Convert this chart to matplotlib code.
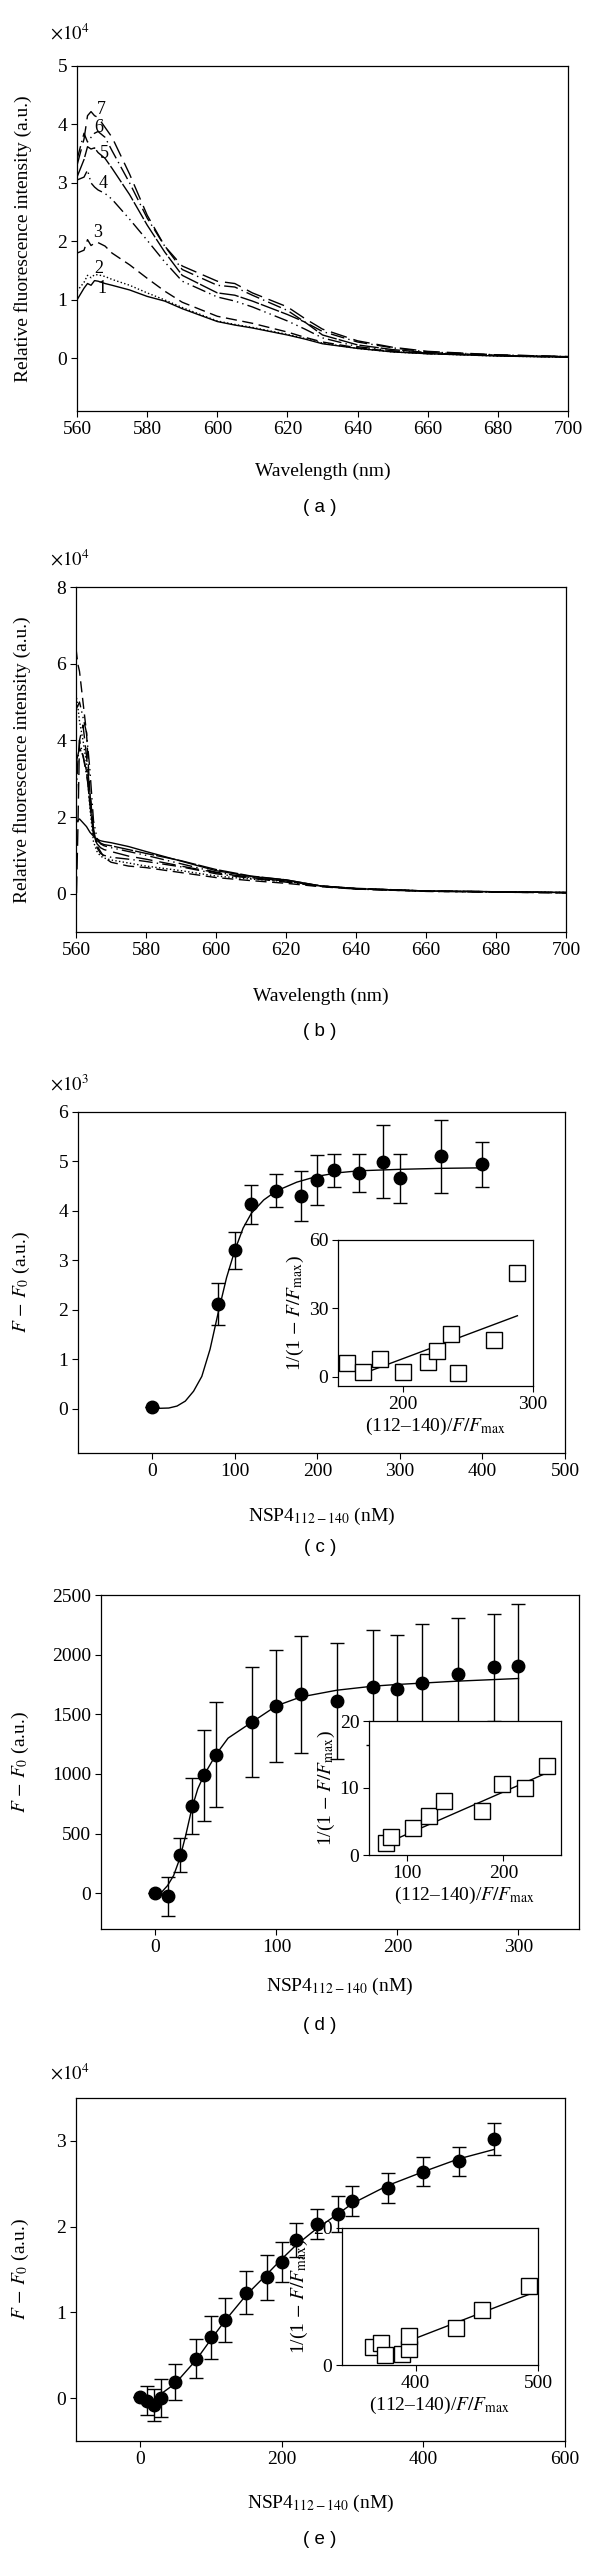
import matplotlib
matplotlib.use('Agg')
import matplotlib.pyplot as plt
import numpy as np

plt.rcParams['font.family'] = ['Liberation Serif', 'DejaVu Serif']
plt.rcParams['mathtext.fontset'] = 'stix'

# ---------------- data ----------------
# (a) emission spectra, x1e4
wl_a = [560, 562, 563, 564, 565, 566, 568, 570, 575, 580, 585, 590, 600, 605, 610, 620, 625, 630, 640, 650, 660, 680, 700]
a1 = [1.0, 1.2, 1.28, 1.25, 1.33, 1.32, 1.28, 1.25, 1.17, 1.06, 0.98, 0.85, 0.63, 0.57, 0.52, 0.40, 0.33, 0.25, 0.17, 0.11, 0.08, 0.04, 0.02]
a2 = [1.15, 1.3, 1.42, 1.38, 1.43, 1.43, 1.4, 1.35, 1.25, 1.12, 1.0, 0.87, 0.64, 0.58, 0.53, 0.41, 0.34, 0.26, 0.17, 0.11, 0.08, 0.04, 0.02]
a3 = [1.8, 1.85, 2.03, 1.93, 1.97, 1.98, 1.92, 1.8, 1.6, 1.37, 1.15, 0.96, 0.72, 0.66, 0.6, 0.45, 0.36, 0.28, 0.18, 0.12, 0.08, 0.05, 0.02]
a4 = [3.05, 3.1, 3.22, 3.0, 2.93, 2.88, 2.82, 2.72, 2.38, 2.02, 1.65, 1.32, 1.05, 0.98, 0.88, 0.64, 0.5, 0.35, 0.2, 0.13, 0.09, 0.05, 0.02]
a5 = [3.1, 3.4, 3.62, 3.58, 3.6, 3.52, 3.42, 3.25, 2.8, 2.28, 1.82, 1.42, 1.12, 1.08, 0.98, 0.75, 0.62, 0.4, 0.23, 0.15, 0.1, 0.05, 0.03]
a6 = [3.4, 3.85, 3.7, 3.78, 3.85, 3.88, 3.78, 3.55, 3.0, 2.4, 1.92, 1.52, 1.25, 1.22, 1.08, 0.82, 0.62, 0.46, 0.28, 0.18, 0.11, 0.06, 0.03]
a7 = [3.3, 3.75, 4.15, 4.22, 4.15, 4.12, 3.95, 3.78, 3.15, 2.45, 1.92, 1.58, 1.32, 1.28, 1.12, 0.88, 0.68, 0.5, 0.3, 0.19, 0.12, 0.06, 0.03]
a_labels = ['1', '2', '3', '4', '5', '6', '7']
a_label_x = [567, 566.3, 566, 567.4, 567.8, 566.3, 567]
a_label_y = [1.2, 1.54, 2.15, 2.99, 3.51, 3.94, 4.26]

# (b) emission spectra, x1e4
wl_b = [560, 560.5, 561, 562, 563, 564, 565, 566, 567, 568, 570, 575, 580, 590, 600, 610, 620, 630, 640, 660, 680, 700]
b1 = [1.85, 1.9, 1.95, 1.85, 1.75, 1.6, 1.5, 1.42, 1.38, 1.36, 1.33, 1.23, 1.1, 0.85, 0.6, 0.45, 0.36, 0.2, 0.13, 0.07, 0.05, 0.03]
b2 = [5.2, 4.9, 4.5, 4.0, 3.4, 2.2, 1.35, 1.1, 0.98, 0.93, 0.88, 0.8, 0.72, 0.6, 0.46, 0.38, 0.32, 0.2, 0.13, 0.07, 0.05, 0.03]
b3 = [6.4, 6.0, 5.8, 5.0, 4.2, 2.6, 1.6, 1.25, 1.1, 0.95, 0.82, 0.72, 0.68, 0.55, 0.42, 0.34, 0.27, 0.18, 0.12, 0.06, 0.04, 0.02]
b4 = [4.8, 4.9, 5.0, 4.6, 4.2, 3.2, 1.9, 1.45, 1.3, 1.25, 1.2, 1.1, 1.0, 0.78, 0.56, 0.42, 0.33, 0.2, 0.13, 0.07, 0.05, 0.03]
b5 = [3.4, 3.6, 3.8, 3.6, 3.2, 2.3, 1.55, 1.38, 1.32, 1.28, 1.25, 1.15, 1.05, 0.86, 0.63, 0.46, 0.36, 0.2, 0.14, 0.07, 0.05, 0.03]
b6 = [2.5, 3.4, 4.0, 3.6, 3.1, 2.6, 1.7, 1.2, 1.05, 1.0, 0.95, 0.9, 0.84, 0.7, 0.52, 0.4, 0.3, 0.19, 0.12, 0.06, 0.04, 0.02]
b7 = [-0.6, 1.5, 4.0, 4.4, 3.6, 2.6, 1.6, 1.3, 1.2, 1.15, 1.1, 0.98, 0.9, 0.72, 0.55, 0.42, 0.33, 0.2, 0.13, 0.07, 0.05, 0.03]

# (c) titration, x1e3
c_x = [0, 80, 100, 120, 150, 180, 200, 220, 250, 280, 300, 350, 400]
c_y = [0.03, 2.12, 3.2, 4.13, 4.41, 4.3, 4.62, 4.82, 4.77, 4.99, 4.66, 5.1, 4.94]
c_err = [0.0, 0.42, 0.37, 0.39, 0.34, 0.51, 0.5, 0.34, 0.39, 0.74, 0.5, 0.73, 0.45]
c_fit_x = [0, 20, 30, 40, 50, 60, 70, 80, 90, 100, 110, 120, 135, 150, 175, 200, 225, 250, 300, 350, 400]
c_fit_y = [0, 0.01, 0.05, 0.15, 0.35, 0.65, 1.2, 1.95, 2.65, 3.2, 3.65, 3.95, 4.22, 4.4, 4.58, 4.7, 4.77, 4.81, 4.84, 4.86, 4.87]
ci_x = [157, 169, 182, 200, 219, 226, 237, 242, 270, 288]
ci_y = [5.9, 2.2, 8.0, 2.2, 6.6, 11.3, 19.0, 1.5, 16.0, 45.4]
ci_line_x = [170, 288]
ci_line_y = [1.6, 26.8]

# (d) titration
d_x = [0, 10, 20, 30, 40, 50, 80, 100, 120, 150, 180, 200, 220, 250, 280, 300]
d_y = [3, -25, 322, 731, 988, 1162, 1436, 1571, 1666, 1610, 1725, 1716, 1764, 1834, 1893, 1907]
d_err = [0, 165, 140, 231, 381, 437, 458, 469, 493, 486, 483, 448, 490, 472, 448, 514]
d_fit_x = [5, 10, 15, 20, 25, 30, 35, 40, 50, 60, 80, 100, 120, 150, 180, 200, 250, 300]
d_fit_y = [8, 64, 148, 288, 484, 708, 876, 988, 1162, 1300, 1436, 1571, 1645, 1702, 1736, 1750, 1778, 1800]
di_x = [78, 83, 106, 122, 138, 178, 199, 223, 245]
di_y = [1.8, 2.7, 4.0, 5.8, 8.0, 6.5, 10.6, 10.0, 13.3]
di_line_x = [74, 246]
di_line_y = [1.5, 12.3]

# (e) titration, x1e4
e_x = [0, 10, 20, 30, 50, 80, 100, 120, 150, 180, 200, 220, 250, 280, 300, 350, 400, 450, 500]
e_y = [0.01, -0.03, -0.08, 0.0, 0.19, 0.46, 0.71, 0.91, 1.23, 1.41, 1.59, 1.84, 2.03, 2.15, 2.3, 2.45, 2.64, 2.76, 3.02]
e_err = [0, 0.17, 0.185, 0.22, 0.21, 0.23, 0.25, 0.26, 0.25, 0.26, 0.235, 0.2, 0.18, 0.21, 0.175, 0.175, 0.17, 0.165, 0.19]
e_fit_x = [22, 30, 50, 80, 100, 120, 150, 180, 200, 220, 250, 280, 300, 350, 400, 450, 500]
e_fit_y = [0.0, 0.05, 0.17, 0.45, 0.68, 0.9, 1.2, 1.45, 1.62, 1.78, 1.98, 2.15, 2.27, 2.48, 2.64, 2.79, 2.9]
ei_x = [365, 372, 375, 389, 395, 395, 433, 454, 493]
ei_y = [2.6, 3.2, 1.5, 1.6, 2.4, 4.3, 5.4, 8.0, 11.6]
ei_line_x = [400, 494]
ei_line_y = [3.9, 10.4]

# ---------------- layout ----------------
W, H = 600, 2555
fig = plt.figure(figsize=(W / 100, H / 100), dpi=100)
font = 14


def box(x0, y0, x1, y1):
    return [x0 / W, 1 - y1 / H, (x1 - x0) / W, (y1 - y0) / H]


def style(ax, fs=font):
    ax.tick_params(direction='out', length=4, width=0.8, labelsize=fs, top=False, right=False, pad=3)
    for s in ax.spines.values():
        s.set_linewidth(0.9)


def caption(txt, y):
    fig.text(320 / W, 1 - y / H, txt, ha='center', va='center', fontsize=13.5, family='Liberation Sans')


def scale_note(txt, y):
    fig.text(50 / W, 1 - y / H, txt, ha='left', va='center', fontsize=13.5)


styles = ['-', ':', (0, (8, 4)), (0, (10, 3, 1, 3, 1, 3)), (0, (14, 1.5)), (0, (10, 3, 1, 3)), (0, (12, 5))]

# (a)
ax = fig.add_axes(box(77, 66, 568, 411))
for yv, ls in zip([a1, a2, a3, a4, a5, a6, a7], styles):
    ax.plot(wl_a, yv, color='black', lw=1.0, linestyle=ls)
for t, x, y in zip(a_labels, a_label_x, a_label_y):
    ax.text(x, y, t, fontsize=13, ha='center', va='center')
ax.set_xlim(560, 700)
ax.set_ylim(-0.9, 5)
ax.set_xticks(np.arange(560, 701, 20))
ax.set_yticks(np.arange(0, 6, 1))
ax.set_xlabel('Wavelength (nm)', fontsize=font)
ax.set_ylabel('Relative fluorescence intensity (a.u.)', fontsize=font)
ax.yaxis.set_label_coords(-0.092, 0.5)
ax.xaxis.set_label_coords(0.5, -0.15)
style(ax)
scale_note(r'$\times10^4$', 33)
caption('( a )', 508)

# (b)
ax = fig.add_axes(box(76, 587, 566, 932))
for yv, ls in zip([b1, b2, b3, b4, b5, b6, b7], styles):
    ax.plot(wl_b, yv, color='black', lw=1.0, linestyle=ls)
ax.set_xlim(560, 700)
ax.set_ylim(-1, 8)
ax.set_xticks(np.arange(560, 701, 20))
ax.set_yticks(np.arange(0, 9, 2))
ax.set_xlabel('Wavelength (nm)', fontsize=font)
ax.set_ylabel('Relative fluorescence intensity (a.u.)', fontsize=font)
ax.yaxis.set_label_coords(-0.092, 0.5)
ax.xaxis.set_label_coords(0.5, -0.16)
style(ax)
scale_note(r'$\times10^4$', 559)
caption('( b )', 1032)

ylab_f = r'$F$ $-$ $F_0$ (a.u.)'
xlab_n = r'NSP4$_{\mathrm{112-140}}$ (nM)'
ylab_i = r'1/(1 $-$ $F/F_{\mathrm{max}}$)'
xlab_i = r'(112–140)/$F/F_{\mathrm{max}}$'


def titration(ax, x, y, err, fx, fy):
    ax.errorbar(x, y, yerr=err, fmt='o', color='black', ms=9, elinewidth=1.0, capsize=5, capthick=1.0, zorder=3)
    ax.plot(fx, fy, color='black', lw=1.0)


def inset(ax, x, y, lx, ly):
    ax.plot(lx, ly, color='black', lw=1.0, zorder=2)
    ax.plot(x, y, 's', ms=12, mfc='white', mec='black', mew=1.0, zorder=3, clip_on=False)


# (c)
ax = fig.add_axes(box(78, 1112, 565, 1453))
titration(ax, c_x, c_y, c_err, c_fit_x, c_fit_y)
ax.set_xlim(-90, 500)
ax.set_ylim(-0.9, 6)
ax.set_xticks(np.arange(0, 501, 100))
ax.set_yticks(np.arange(0, 7, 1))
ax.set_xlabel(xlab_n, fontsize=font)
ax.set_ylabel(ylab_f, fontsize=font)
ax.yaxis.set_label_coords(-0.095, 0.5)
ax.xaxis.set_label_coords(0.5, -0.155)
style(ax)
scale_note(r'$\times10^3$', 1084)
caption('( c )', 1548)

ai = fig.add_axes(box(338, 1240, 533, 1386))
inset(ai, ci_x, ci_y, ci_line_x, ci_line_y)
ai.set_xlim(150, 300)
ai.set_ylim(-4, 60)
ai.set_xticks([200, 300])
ai.set_yticks([0, 30, 60])
ai.set_xlabel(xlab_i, fontsize=font, labelpad=2)
ai.set_ylabel(ylab_i, fontsize=font, labelpad=2)
style(ai)

# (d)
ax = fig.add_axes(box(101, 1595, 579, 1929))
titration(ax, d_x, d_y, d_err, d_fit_x, d_fit_y)
ax.set_xlim(-45, 350)
ax.set_ylim(-300, 2500)
ax.set_xticks(np.arange(0, 301, 100))
ax.set_yticks(np.arange(0, 2501, 500))
ax.set_xlabel(xlab_n, fontsize=font)
ax.set_ylabel(ylab_f, fontsize=font)
ax.yaxis.set_label_coords(-0.146, 0.5)
ax.xaxis.set_label_coords(0.5, -0.14)
style(ax)
caption('( d )', 2025)

ai = fig.add_axes(box(369, 1721, 561, 1855))
inset(ai, di_x, di_y, di_line_x, di_line_y)
ai.set_xlim(60, 260)
ai.set_ylim(0, 20)
ai.set_xticks([100, 200])
ai.set_yticks([0, 10, 20])
ai.set_xlabel(xlab_i, fontsize=font, labelpad=2)
ai.set_ylabel(ylab_i, fontsize=font, labelpad=2)
style(ai)

# (e)
ax = fig.add_axes(box(76, 2098, 565, 2441))
titration(ax, e_x, e_y, e_err, e_fit_x, e_fit_y)
ax.set_xlim(-90, 600)
ax.set_ylim(-0.5, 3.5)
ax.set_xticks(np.arange(0, 601, 200))
ax.set_yticks(np.arange(0, 4, 1))
ax.set_xlabel(xlab_n, fontsize=font)
ax.set_ylabel(ylab_f, fontsize=font)
ax.yaxis.set_label_coords(-0.092, 0.5)
ax.xaxis.set_label_coords(0.5, -0.15)
style(ax)
scale_note(r'$\times10^4$', 2073)
caption('( e )', 2540)

ai = fig.add_axes(box(342, 2228, 538, 2365))
inset(ai, ei_x, ei_y, ei_line_x, ei_line_y)
ai.set_xlim(340, 500)
ai.set_ylim(0, 20)
ai.set_xticks([400, 500])
ai.set_yticks([0, 20])
ai.set_xlabel(xlab_i, fontsize=font, labelpad=2)
ai.set_ylabel(ylab_i, fontsize=font, labelpad=2)
style(ai)

fig.savefig('out.png', dpi=100, facecolor='white')
